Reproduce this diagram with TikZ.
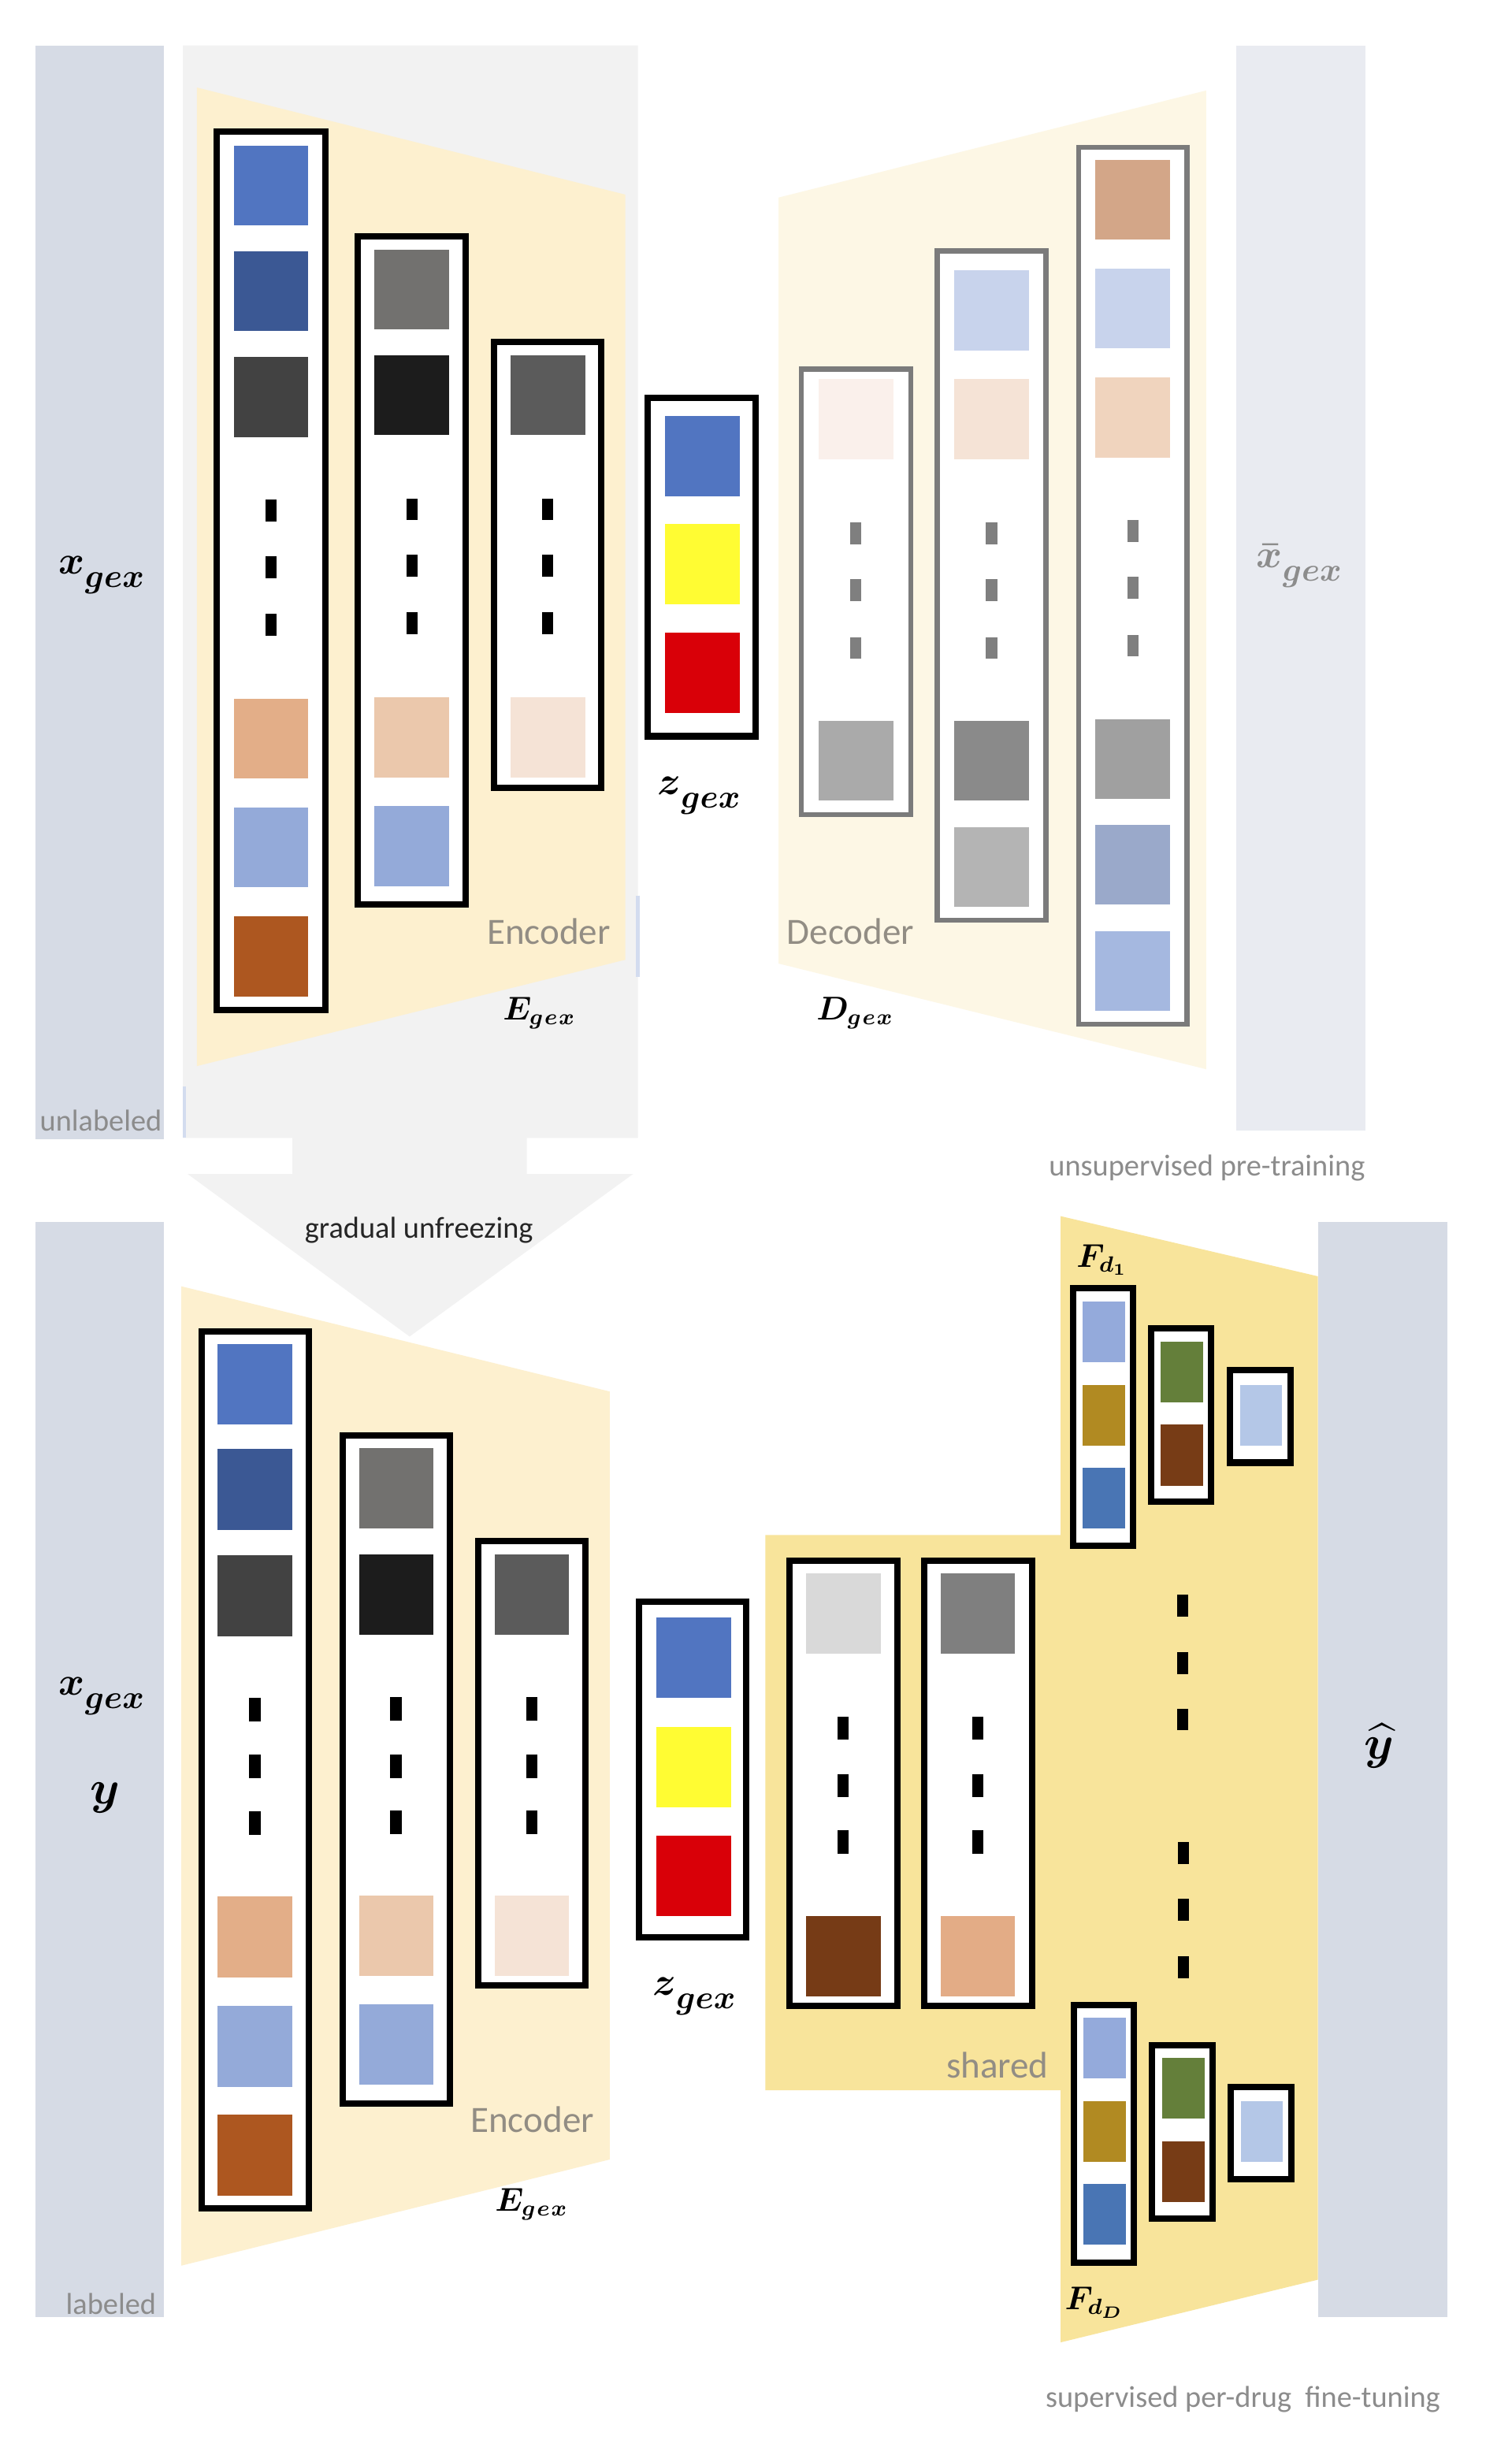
\documentclass[tikz,border=0pt]{standalone}
\usepackage{amsmath}
\usepackage{fontspec}
\newfontfamily\calibri{Carlito}
\usetikzlibrary{positioning}
\newcommand{\glab}[2]{$#1$\raisebox{-0.32em}{\fontsize{12}{13}\selectfont$#2$}}

\definecolor{barblue}{HTML}{D6DBE5}
\definecolor{barlight}{HTML}{E9EBF1}
\definecolor{panelgray}{HTML}{F2F2F2}
\definecolor{encfill}{HTML}{FDF0CF}
\definecolor{decfill}{HTML}{FDF7E5}
\definecolor{headfill}{HTML}{F8E49B}
\definecolor{labgray}{HTML}{8C8C8C}
\definecolor{txtgray}{HTML}{928D84}
\definecolor{decline}{HTML}{7B7B7B}
\definecolor{edgeblue}{HTML}{D3DCEF}
% encoder cells
\definecolor{cBlue}{HTML}{5175C1}
\definecolor{cDkBlue}{HTML}{3B5894}
\definecolor{cDkGray}{HTML}{424242}
\definecolor{cPeach}{HTML}{E3AE88}
\definecolor{cLtBlue}{HTML}{94AAD9}
\definecolor{cRust}{HTML}{AD5720}
\definecolor{cGray}{HTML}{72716F}
\definecolor{cBlack}{HTML}{1C1C1C}
\definecolor{cLtPeach}{HTML}{EBC8AC}
\definecolor{cMidGray}{HTML}{5B5B5B}
\definecolor{cPale}{HTML}{F5E3D6}
\definecolor{cYellow}{HTML}{FFFC33}
\definecolor{cRed}{HTML}{D90008}
% decoder cells
\definecolor{dPale}{HTML}{FAF0EB}
\definecolor{dGrayA}{HTML}{AAAAAA}
\definecolor{dLtBlue}{HTML}{C8D3EC}
\definecolor{dPeach}{HTML}{F5E3D6}
\definecolor{dGrayB}{HTML}{8A8A8A}
\definecolor{dGrayC}{HTML}{B4B4B4}
\definecolor{dTan}{HTML}{D3A688}
\definecolor{dPeachB}{HTML}{F0D4BE}
\definecolor{dGrayD}{HTML}{A0A0A0}
\definecolor{dSlate}{HTML}{9AA9CA}
\definecolor{dBlue}{HTML}{A5B8E0}
% shared and per-drug cells
\definecolor{sLight}{HTML}{D9D9D9}
\definecolor{sBrown}{HTML}{763B16}
\definecolor{sGray}{HTML}{7F7F7F}
\definecolor{sPeach}{HTML}{E3AC86}
\definecolor{hLtBlue}{HTML}{94AADB}
\definecolor{hGold}{HTML}{B18A22}
\definecolor{hBlue}{HTML}{4975B4}
\definecolor{hGreen}{HTML}{647F3A}
\definecolor{hBrown}{HTML}{773C16}
\definecolor{hPale}{HTML}{B4C7E7}

\begin{document}
\begin{tikzpicture}[x=0.02cm,y=-0.02cm,
    layerbox/.style={draw=black,fill=white,line width=2.3pt},
    declayer/.style={draw=decline,fill=white,line width=1.9pt},
    mathlab/.style={inner sep=0pt,font=\fontsize{15}{17}\selectfont\boldmath},
    sublab/.style={inner sep=0pt,font=\fontsize{12}{14}\selectfont\boldmath},
    captxt/.style={inner sep=0pt,text=txtgray,font=\calibri\fontsize{13.5}{15}\selectfont},
    notetxt/.style={inner sep=0pt,text=labgray,font=\calibri\fontsize{11}{13}\selectfont}]
\useasboundingbox[fill=white] (0,0) rectangle (967,1568);

% data bars
\fill[barblue] (22.5,29) rectangle (105,729);
\fill[barlight] (790.8,29) rectangle (873.5,723.5);
\fill[barblue] (22.5,781.7) rectangle (105,1482.5);
\fill[barblue] (843,781.7) rectangle (926,1482.5);

% frozen encoder panel with arrow
\fill[panelgray] (117,29) -- (408,29) -- (408,728) -- (337,728) -- (337,751) -- (405,751)
  -- (262,855) -- (120,751) -- (187,751) -- (187,728) -- (117,728) -- cycle;
\draw[edgeblue,line width=1pt] (118,695) -- (118,728);
\draw[edgeblue,line width=1.2pt] (408,573) -- (408,625);

% trapezoids
\fill[encfill] (126,56) -- (400,124.5) -- (400,614) -- (126,682) -- cycle;
\fill[decfill] (498,126.4) -- (771.6,57.9) -- (771.6,684) -- (498,616.4) -- cycle;
\fill[encfill] (116,822.9) -- (390,890.2) -- (390,1381.5) -- (116,1449.4) -- cycle;
\fill[headfill] (489.6,982) -- (678.4,982) -- (678.4,778) -- (843,816.5) -- (843,1458.4)
  -- (678.4,1498.5) -- (678.4,1337.2) -- (489.6,1337.2) -- cycle;

% encoder (pre-training)
\draw[layerbox] (138.5,84) rectangle (208,646);
\foreach \y/\c in {93/cBlue,160.6/cDkBlue,228.5/cDkGray,447/cPeach,516.4/cLtBlue,586.2/cRust}
  \fill[\c] (149.5,\y) rectangle ++(47.8,51.2);
\foreach \y in {319.7,356,392.7} \fill (169.7,\y) rectangle ++(7,14);
\draw[layerbox] (229,151) rectangle (297.7,578.5);
\foreach \y/\c in {159.6/cGray,227.2/cBlack,446.1/cLtPeach,515.6/cLtBlue}
  \fill[\c] (239.5,\y) rectangle ++(47.8,51.2);
\foreach \y in {318.8,355,391.6} \fill (260,\y) rectangle ++(7,14);
\draw[layerbox] (316,218.6) rectangle (384.4,504);
\foreach \y/\c in {227.2/cMidGray,446.1/cPale}
  \fill[\c] (326.5,\y) rectangle ++(47.8,51.2);
\foreach \y in {318.8,355,391.6} \fill (346.9,\y) rectangle ++(7,14);
\draw[layerbox] (414.3,254.7) rectangle (483.5,471);
\foreach \y/\c in {266.2/cBlue,335.2/cYellow,404.6/cRed}
  \fill[\c] (425.6,\y) rectangle ++(47.8,51.4);

% decoder
\draw[declayer] (512.5,236.1) rectangle (582.6,521.1);
\foreach \y/\c in {242.6/dPale,461/dGrayA}
  \fill[\c] (523.5,\y) rectangle ++(47.8,51.2);
\foreach \y in {334.2,370.4,407.5} \fill[sGray] (543.6,\y) rectangle ++(7.4,14);
\draw[declayer] (599.6,160.4) rectangle (669,588.6);
\foreach \y/\c in {173.1/dLtBlue,242.6/dPeach,461/dGrayB,529/dGrayC}
  \fill[\c] (610.5,\y) rectangle ++(47.9,51.2);
\foreach \y in {334.2,370.4,407.5} \fill[sGray] (630.6,\y) rectangle ++(7.4,14);
\draw[declayer] (690,94.3) rectangle (759.4,655.2);
\foreach \y/\c in {102.2/dTan,171.7/dLtBlue,241.6/dPeachB,460.1/dGrayD,527.6/dSlate,595.6/dBlue}
  \fill[\c] (700.6,\y) rectangle ++(47.9,51.2);
\foreach \y in {332.8,369,406} \fill[sGray] (721,\y) rectangle ++(7.4,14);

% encoder (fine-tuning)
\draw[layerbox] (128.8,851.6) rectangle (197.7,1412.6);
\foreach \y/\c in {859.7/cBlue,927/cDkBlue,994.8/cDkGray,1213.3/cPeach,1283.3/cLtBlue,1352.7/cRust}
  \fill[\c] (139.2,\y) rectangle ++(47.8,51.8);
\foreach \y in {1086.2,1122.5,1158.8} \fill (159.5,\y) rectangle ++(7.4,15);
\draw[layerbox] (219,918.3) rectangle (288,1345.9);
\foreach \y/\c in {926.5/cGray,994.3/cBlack,1212.8/cLtPeach,1282.2/cLtBlue}
  \fill[\c] (229.6,\y) rectangle ++(47.5,51.5);
\foreach \y in {1085.6,1122.5,1158.3} \fill (249.7,\y) rectangle ++(7.1,15);
\draw[layerbox] (306,985.6) rectangle (374.5,1270);
\foreach \y/\c in {994.3/cMidGray,1212.8/cPale}
  \fill[\c] (316.3,\y) rectangle ++(47.5,51.5);
\foreach \y in {1085.6,1122.5,1158.3} \fill (336.7,\y) rectangle ++(7,15);
\draw[layerbox] (408.7,1024.6) rectangle (477.3,1239.6);
\foreach \y/\c in {1034.9/cBlue,1104.9/cYellow,1174.3/cRed}
  \fill[\c] (420,\y) rectangle ++(47.5,51.3);

% shared layers
\draw[layerbox] (505.1,998.5) rectangle (574,1283);
\foreach \y/\c in {1006.6/sLight,1225.6/sBrown}
  \fill[\c] (515.5,\y) rectangle ++(47.8,51.5);
\foreach \y in {1098,1134.8,1171} \fill (535.8,\y) rectangle ++(7.2,15);
\draw[layerbox] (591.2,998.5) rectangle (660.4,1283);
\foreach \y/\c in {1006.6/sGray,1225.6/sPeach}
  \fill[\c] (601.6,\y) rectangle ++(47.8,51.5);
\foreach \y in {1098,1134.8,1171} \fill (622,\y) rectangle ++(7.2,15);

% per-drug heads
\foreach \dx/\dy in {0/0,0.6/458.3} {
  \begin{scope}[shift={(\dx,\dy)}]
    \draw[layerbox] (686.3,824.3) rectangle (724.6,989);
    \foreach \y/\c in {832.5/hLtBlue,885.9/hGold,938.8/hBlue}
      \fill[\c] (692.3,\y) rectangle ++(27.2,39);
    \draw[layerbox] (736.3,850) rectangle (774.9,960.8);
    \foreach \y/\c in {858.1/hGreen,911.5/hBrown}
      \fill[\c] (742.6,\y) rectangle ++(27.2,39);
    \draw[layerbox] (786.9,876.7) rectangle (825.5,935.7);
    \fill[hPale] (793.2,885.9) rectangle ++(26.6,39);
  \end{scope}
}
\foreach \y in {1020,1056.8,1093} \fill (753,\y) rectangle ++(7.2,14);
\foreach \y in {1178.6,1214.9,1251.7} \fill (753.6,\y) rectangle ++(7.2,14);

% labels
\node[mathlab] (xgex-pre) at (65,368) {\glab{x}{gex}};
\node[mathlab] (zgex-pre) at (447,509) {\glab{z}{gex}};
\node[mathlab,text=labgray] (xbar-pre) at (831,362) {\glab{\bar{x}}{gex}};
\node[sublab] (egex-pre) at (345,648) {$E_{g\mkern1mu e\mkern1mu x}$};
\node[sublab] (dgex-pre) at (547,648) {$D_{g\mkern1mu e\mkern1mu x}$};
\node[captxt] (enc-pre) at (351,596) {Encoder};
\node[captxt] (dec-pre) at (544,596) {Decoder};
\node[notetxt] (unlab) at (64.5,717) {unlabeled};
\node[notetxt,anchor=east] (pretrain) at (873.5,747) {unsupervised pre-training};
\node[inner sep=0pt,text=black!85,font=\calibri\fontsize{11}{13}\selectfont] (unfreeze) at (268,787) {gradual unfreezing};

\node[mathlab] (xgex-fine) at (65,1085) {\glab{x}{gex}};
\node[mathlab,font=\fontsize{16}{18}\selectfont\boldmath] (y-fine) at (67,1150) {$y$};
\node[notetxt] (lab) at (71,1474) {labeled};
\node[mathlab] (zgex-fine) at (444,1277) {\glab{z}{gex}};
\node[captxt] (enc-fine) at (340.5,1356) {Encoder};
\node[sublab] (egex-fine) at (340,1410) {$E_{g\mkern1mu e\mkern1mu x}$};
\node[captxt] (shared) at (638,1321) {shared};
\node[sublab] (fd1) at (705,806) {$F_{d_1}$};
\node[sublab] (fdD) at (700,1473) {$F_{d_D}$};
\node[mathlab,font=\fontsize{16}{18}\selectfont\boldmath] (yhat) at (882,1117) {$\widehat{y}$};
\node[notetxt,anchor=east] (finetune) at (921.6,1535) {supervised per-drug\ \ fine-tuning};
\end{tikzpicture}
\end{document}
